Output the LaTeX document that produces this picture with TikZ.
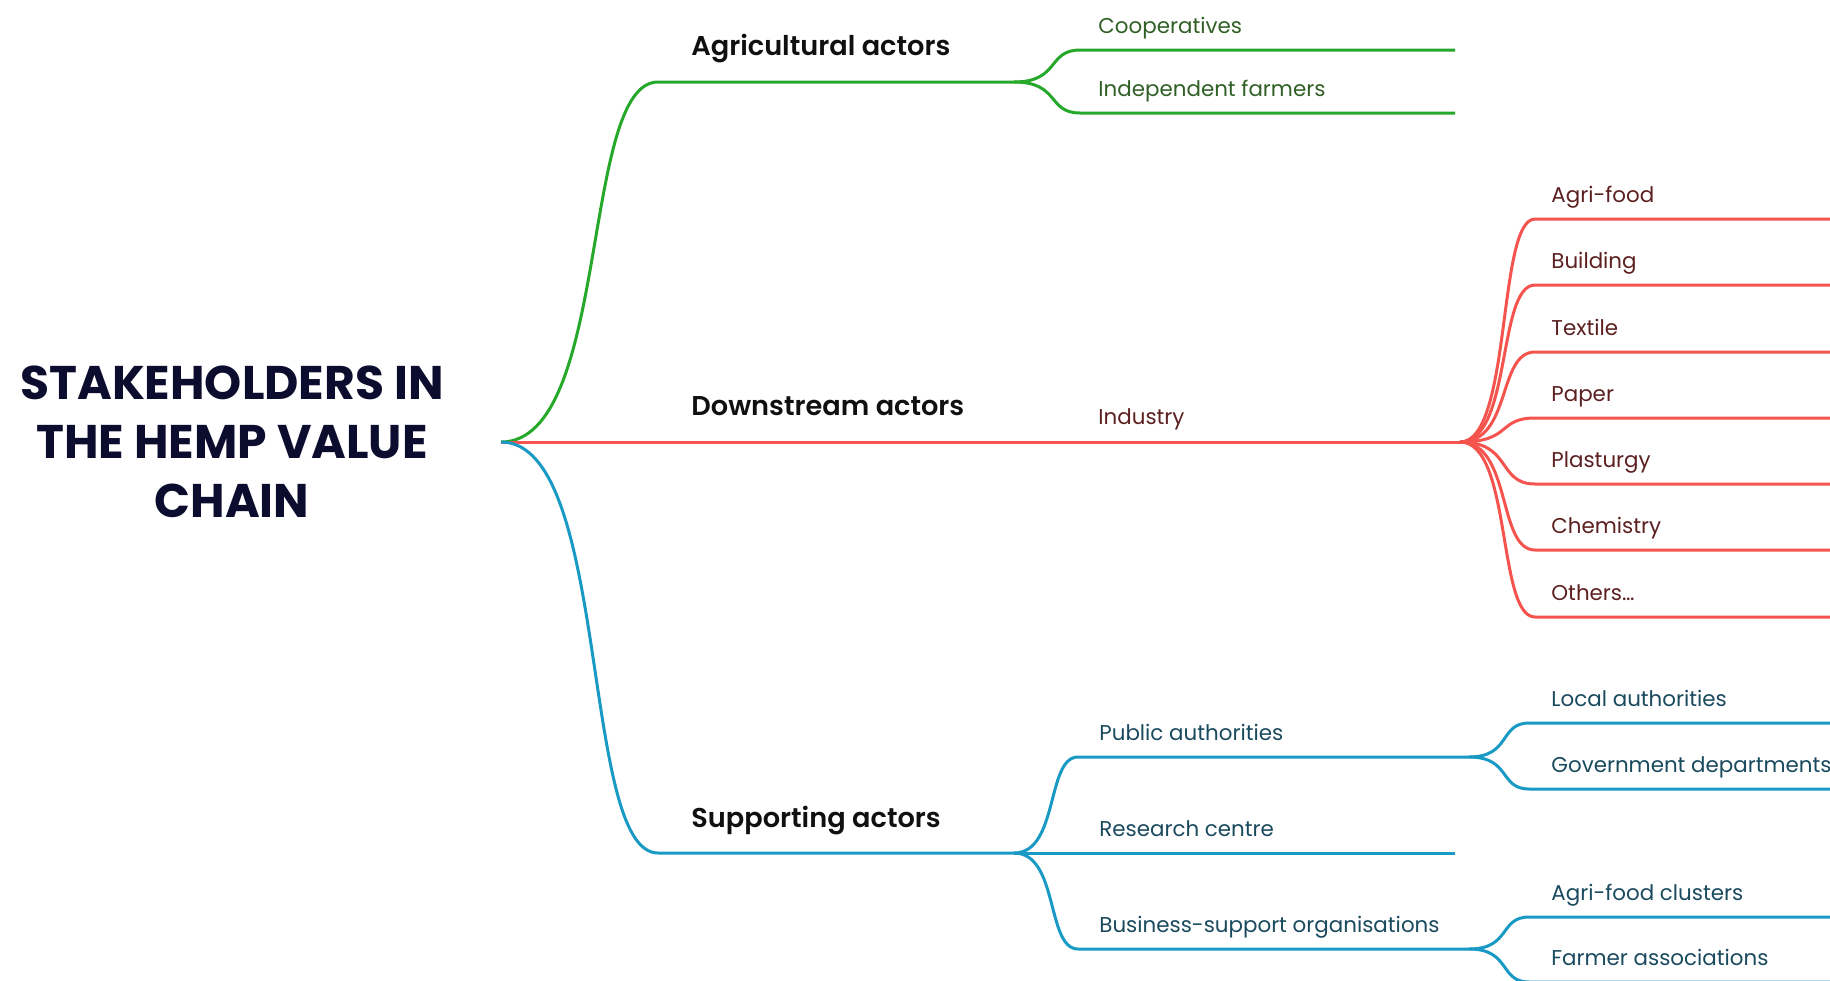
\documentclass[tikz,border=0pt]{standalone}
\usepackage{fontspec}
\setmainfont{Poppins}
\newfontfamily\headfont{Poppins}[UprightFont=* SemiBold]
\usetikzlibrary{positioning}
\definecolor{hempgreen}{RGB}{38,168,42}
\definecolor{hempred}{RGB}{245,83,77}
\definecolor{hempblue}{RGB}{24,154,196}
\definecolor{greentext}{RGB}{48,96,38}
\definecolor{redtext}{RGB}{92,32,32}
\definecolor{bluetext}{RGB}{26,74,94}
\definecolor{titlenavy}{RGB}{12,12,46}
\definecolor{headblack}{RGB}{16,16,16}

\begin{document}
\begin{tikzpicture}[
    x=0.5pt, y=-0.5pt,
    branch/.style={line width=1.5pt},
    head/.style={anchor=base west, inner sep=0pt, font=\headfont\fontsize{13.6}{16}\selectfont, text=headblack},
    leaf/.style={anchor=base west, inner sep=0pt, font=\fontsize{10.7}{13}\selectfont}
]
    \clip (0,0) rectangle (1830,980);

    % Title
    \node[align=center, font=\bfseries\fontsize{23.6}{29.5}\selectfont, text=titlenavy] (title) at (232,442) {STAKEHOLDERS IN\\THE HEMP VALUE\\CHAIN};
    \coordinate (root) at (501,442);

    % Agricultural actors
    \coordinate (agri) at (658,82);
    \coordinate (agriJ) at (1014,82);
    \draw[branch, hempgreen] (root) .. controls +(110,0) and +(-78,0) .. (agri) -- (agriJ);
    \node[head] (agriT) at (691,55) {Agricultural actors};
    \foreach \nm/\txt/\y in {coop/Cooperatives/50, indep/Independent farmers/113} {
        \coordinate (\nm) at (1080,\y);
        \coordinate (\nm E) at (1455,\y);
        \draw[branch, hempgreen] (agriJ) .. controls +(46,0) and +(-33,0) .. (\nm) -- (\nm E);
        \node[leaf, text=greentext] (\nm T) at (1098,\y-17) {\txt};
    }

    % Downstream actors
    \coordinate (down) at (658,442);
    \coordinate (indJ) at (1460,442);
    \draw[branch, hempred] (root) -- (down) -- (indJ);
    \node[head] (downT) at (691,415) {Downstream actors};
    \node[leaf, text=redtext] (indT) at (1098,424) {Industry};
    \foreach \nm/\txt/\y in {agrifood/Agri-food/219, building/Building/285, textile/Textile/352, paper/Paper/418, plast/Plasturgy/484, chem/Chemistry/550, others/Others…/617} {
        \coordinate (\nm) at (1535,\y);
        \coordinate (\nm E) at (1840,\y);
        \draw[branch, hempred] (indJ) .. controls +(52,0) and +(-38,0) .. (\nm) -- (\nm E);
        \node[leaf, text=redtext] (\nm T) at (1551,\y-17) {\txt};
    }

    % Supporting actors
    \coordinate (supp) at (658,853);
    \coordinate (suppJ) at (1014,853);
    \draw[branch, hempblue] (root) .. controls +(110,0) and +(-78,0) .. (supp) -- (suppJ);
    \node[head] (suppT) at (691,827) {Supporting actors};
    \foreach \nm/\txt/\y in {pub/Public authorities/757, bus/Business-support organisations/949} {
        \coordinate (\nm) at (1078,\y);
        \coordinate (\nm J) at (1469,\y);
        \draw[branch, hempblue] (suppJ) .. controls +(45,0) and +(-32,0) .. (\nm) -- (\nm J);
        \node[leaf, text=bluetext] (\nm T) at (1099,\y-17) {\txt};
    }
    \coordinate (resE) at (1455,853);
    \draw[branch, hempblue] (suppJ) -- (resE);
    \node[leaf, text=bluetext] (resT) at (1099,836) {Research centre};
    \foreach \j/\nm/\txt/\y in {pubJ/local/Local authorities/723, pubJ/gov/Government departments/789, busJ/clusters/Agri-food clusters/917, busJ/farmers/Farmer associations/982} {
        \coordinate (\nm) at (1529,\y);
        \coordinate (\nm E) at (1840,\y);
        \draw[branch, hempblue] (\j) .. controls +(42,0) and +(-30,0) .. (\nm) -- (\nm E);
        \node[leaf, text=bluetext] (\nm T) at (1551,\y-17) {\txt};
    }
\end{tikzpicture}
\end{document}
